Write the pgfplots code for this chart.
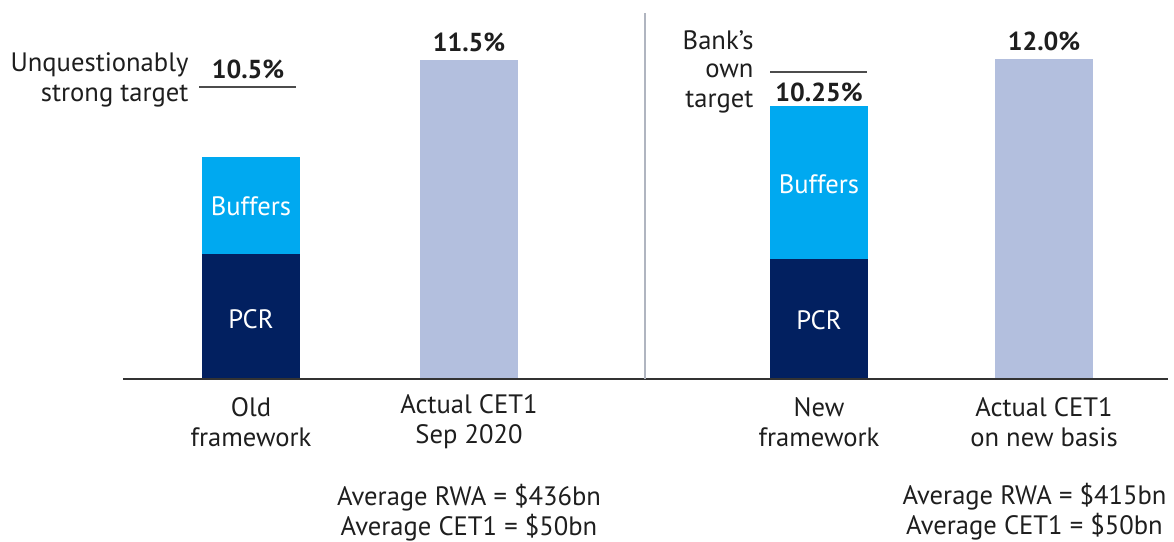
\documentclass[border=0pt]{standalone}
\usepackage{pgfplots}
\pgfplotsset{compat=1.18}
\usepackage{fontspec}
\setmainfont{PT Sans}
\definecolor{navy}{RGB}{2,32,96}
\definecolor{buff}{RGB}{0,169,240}
\definecolor{lightbar}{RGB}{179,191,222}
\definecolor{divider}{RGB}{176,181,192}
\definecolor{txt}{RGB}{30,30,30}
\begin{document}
\begin{tikzpicture}[font=\fontsize{26.6}{30}\selectfont,text=txt]
\path[use as bounding box] (0pt,0pt) rectangle (1174pt,541pt);
% left axis
\begin{axis}[at={(123pt,162pt)},anchor=south west,scale only axis,
  width=522pt,height=366pt,xmin=0,xmax=522,ymin=0,ymax=13.19,
  axis lines=none,ybar stacked,bar width=98pt,clip=false]
\addplot[fill=navy,draw=none] coordinates {(128,4.5) (346,0)};
\addplot[fill=buff,draw=none] coordinates {(128,3.5) (346,0)};
\addplot[fill=lightbar,draw=none] coordinates {(128,0) (346,11.5)};
\end{axis}
% right axis
\begin{axis}[at={(645pt,162pt)},anchor=south west,scale only axis,
  width=523pt,height=366pt,xmin=0,xmax=523,ymin=0,ymax=13.72,
  axis lines=none,ybar stacked,bar width=98pt,clip=false]
\addplot[fill=navy,draw=none] coordinates {(174,4.5) (399,0)};
\addplot[fill=buff,draw=none] coordinates {(174,5.75) (399,0)};
\addplot[fill=lightbar,draw=none] coordinates {(174,0) (399,12.0)};
\end{axis}
\begin{scope}[x=1pt,y=1pt]
% baseline and divider
\draw[color=black!80,line width=1.2pt] (123,162) -- (1168,162);
\draw[color=divider,line width=1.2pt] (645,162) -- (645,528);
% target lines
\draw[color=black!70,line width=1.2pt] (199,454) -- (296,454);
\draw[color=black!70,line width=1.2pt] (770,469) -- (867,469);
% labels above
\node[anchor=east] at (192,476) {Unquestionably};
\node[anchor=east] at (192,445) {strong target};
\node[font=\fontsize{26}{30}\selectfont\bfseries] at (248,472) {10.5\%};
\node[font=\fontsize{26}{30}\selectfont\bfseries] at (469,499) {11.5\%};
\node[anchor=east] at (757,501) {Bank's};
\node[anchor=east] at (757,470) {own};
\node[anchor=east] at (757,439) {target};
\node[font=\fontsize{26}{30}\selectfont\bfseries] at (819,449) {10.25\%};
\node[font=\fontsize{26}{30}\selectfont\bfseries] at (1044,500) {12.0\%};
% inside bar labels
\node[text=white] at (251,335) {Buffers};
\node[text=white] at (251,222) {PCR};
\node[text=white] at (819,357) {Buffers};
\node[text=white] at (819,221) {PCR};
% categories
\node[align=center] at (251,119) {Old\\framework};
\node[align=center] at (469,119) {Actual CET1\\Sep 2020};
\node[align=center] at (819,119) {New\\framework};
\node[align=center] at (1044,119) {Actual CET1\\on new basis};
% notes
\node[align=center] at (469,28) {Average RWA = \$436bn\\Average CET1 = \$50bn};
\node[align=center,anchor=east] at (1170,29) {Average RWA = \$415bn\\Average CET1 = \$50bn};
\end{scope}
\end{tikzpicture}
\end{document}
